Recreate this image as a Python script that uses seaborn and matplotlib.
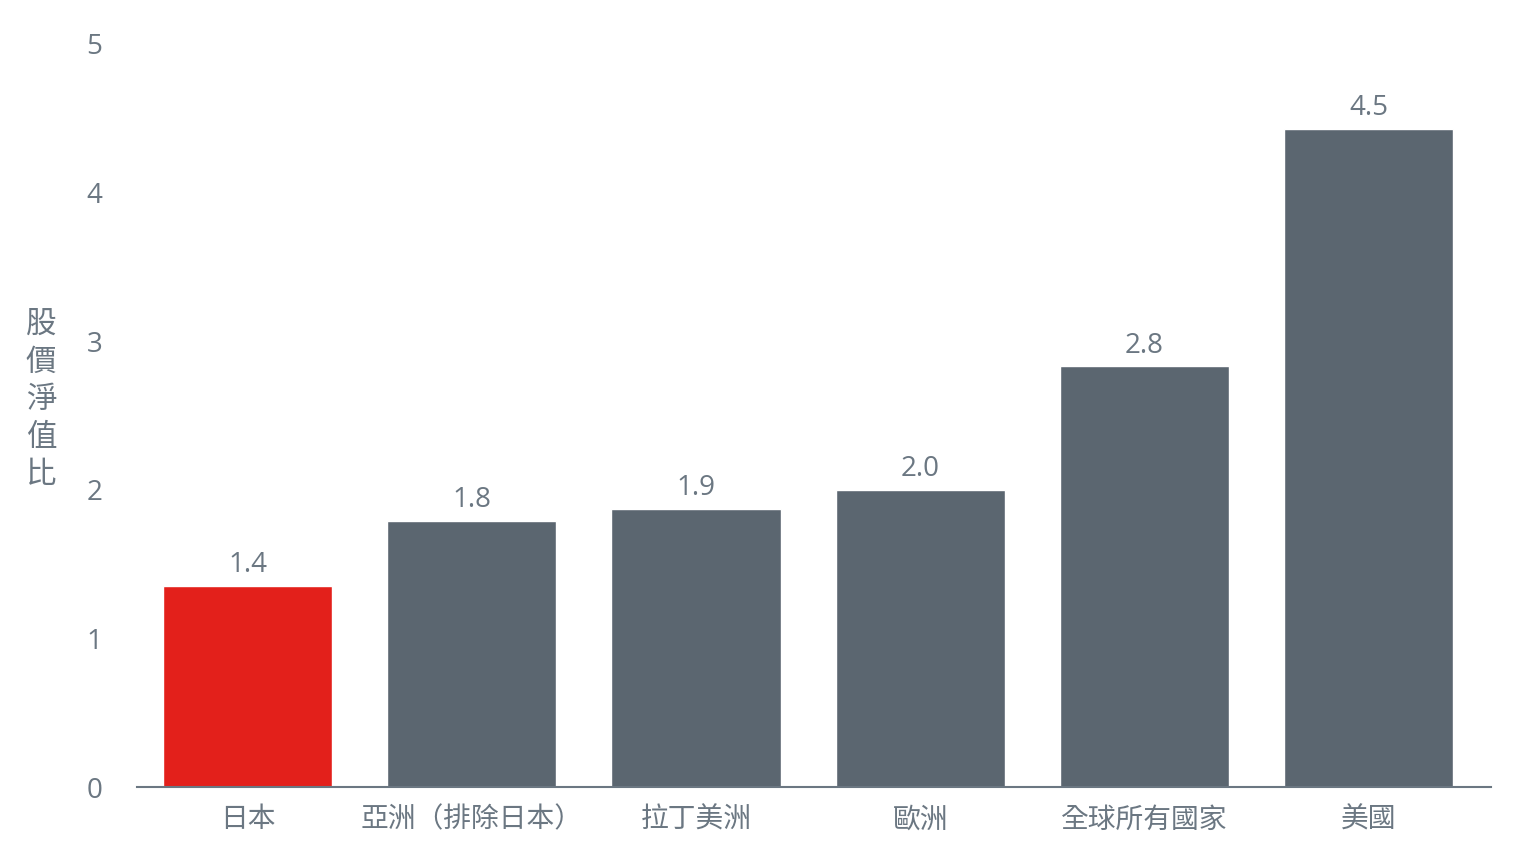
import pandas as pd
import seaborn as sns
import matplotlib.pyplot as plt

# Values
regions = ['日本', '亞洲（排除日本）', '拉丁美洲', '歐洲', '全球所有國家', '美國']
pb_ratio = [1.35, 1.79, 1.87, 2.0, 2.83, 4.43]
value_labels = ['1.4', '1.8', '1.9', '2.0', '2.8', '4.5']
y_ticks = [0, 1, 2, 3, 4, 5]
y_title = '股價淨值比'

red = '#E3201B'
grey = '#5B6670'
text_grey = '#6B7782'

sns.set_theme(style='white')
plt.rcParams['font.family'] = ['Open Sans', 'Noto Sans CJK TC', 'DejaVu Sans']

df = pd.DataFrame({'Region': regions, 'PB': pb_ratio})
palette = {r: (red if r == '日本' else grey) for r in regions}

fig = plt.figure(figsize=(15.18, 8.63), dpi=100)
ax = fig.add_axes([137 / 1518, 1 - 787 / 863, (1491 - 137) / 1518, (787 - 44) / 863])

sns.barplot(data=df, x='Region', y='PB', hue='Region', palette=palette,
            width=0.755, saturation=1, legend=False, ax=ax)

for i, cont in enumerate(ax.containers):
    ax.bar_label(cont, labels=[value_labels[i]], padding=5, fontsize=20, color=text_grey)

ax.set_ylim(0, 5)
ax.set_xlim(-0.493, 5.546)
ax.set_yticks(y_ticks)
ax.set_xlabel('')
ax.set_ylabel('')
ax.tick_params(axis='y', length=0, pad=25, labelsize=20, labelcolor=text_grey)
ax.tick_params(axis='x', length=0, pad=14, labelsize=20, labelcolor=text_grey)

for side in ['top', 'right', 'left']:
    ax.spines[side].set_visible(False)
ax.spines['bottom'].set_color('#6B7782')
ax.spines['bottom'].set_linewidth(1.5)

fig.text(41 / 1518, 1 - 400 / 863, '\n'.join(y_title), ha='center', va='center',
         fontsize=22, color=text_grey, linespacing=1.33)

fig.savefig('out.png', dpi=100)
